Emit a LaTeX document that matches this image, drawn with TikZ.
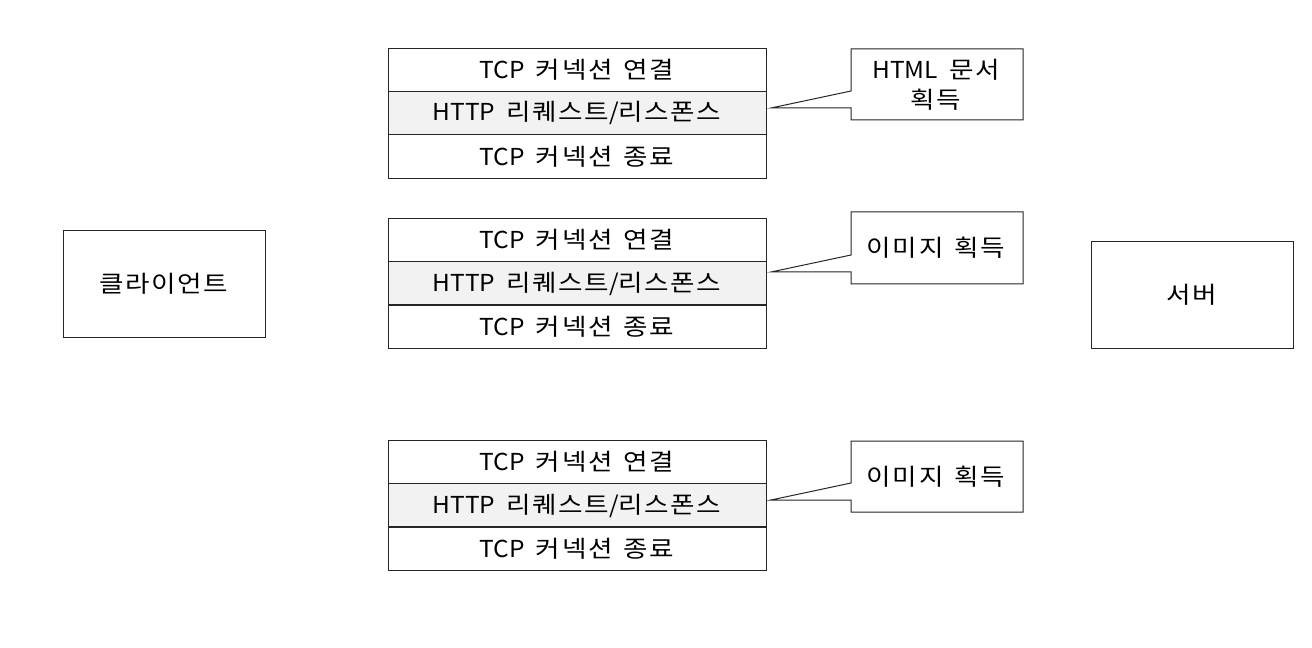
\documentclass[tikz,border=0pt]{standalone}
\usepackage{fontspec}
\setmainfont{Noto Sans CJK KR}[FakeStretch=1.05,WordSpace=2.0]
\newfontfamily\korfont{Noto Sans CJK KR}[FakeStretch=1.14,LetterSpace=7,WordSpace=2.0]
\newcommand\kor[1]{{\korfont #1}}
\begin{document}
\begin{tikzpicture}[x=0.75pt,y=-0.75pt,
  lbl/.style={font=\fontsize{17.5}{22.5}\selectfont},
  rowbox/.style={draw=black!85,line width=0.75pt,minimum width=283.5pt,minimum height=32.4pt,inner sep=0pt,lbl},
  httpbox/.style={rowbox,fill=black!5},
  sidebox/.style={draw=black!85,line width=0.75pt,minimum width=151.5pt,minimum height=79.5pt,inner sep=0pt,lbl},
  callouttext/.style={inner sep=0pt,lbl,align=center},
  calloutline/.style={draw=black!85,line width=0.75pt,fill=white,line join=miter}]
\useasboundingbox (0,0) rectangle (1312,648);
% client and server
\node[sidebox] (client) at (164,284) {\kor{클라이언트}};
\node[sidebox] (server) at (1192,295) {\kor{서버}};
% stack 1
\node[rowbox] (c1) at (577,70) {TCP \kor{커넥션} \kor{연결}};
\node[httpbox] (h1) at (577,113) {HTTP \kor{리퀘스트}/\kor{리스폰스}};
\node[rowbox] (e1) at (577,156.5) {TCP \kor{커넥션} \kor{종료}};
% stack 2
\node[rowbox] (c2) at (577,240) {TCP \kor{커넥션} \kor{연결}};
\node[httpbox] (h2) at (577,283.5) {HTTP \kor{리퀘스트}/\kor{리스폰스}};
\node[rowbox] (e2) at (577,326.5) {TCP \kor{커넥션} \kor{종료}};
% stack 3
\node[rowbox] (c3) at (577,462) {TCP \kor{커넥션} \kor{연결}};
\node[httpbox] (h3) at (577,505.5) {HTTP \kor{리퀘스트}/\kor{리스폰스}};
\node[rowbox] (e3) at (577,548.5) {TCP \kor{커넥션} \kor{종료}};
% callouts
\coordinate (t1) at (771,108);
\coordinate (t2) at (771,272);
\coordinate (t3) at (771,500);
\draw[calloutline] (851,49) -- (1023,49) -- (1023,120) -- (851,120) -- (851,108) -- (t1) -- (851,91) -- cycle;
\draw[calloutline] (851,212) -- (1023,212) -- (1023,284) -- (851,284) -- (851,272) -- (t2) -- (851,255) -- cycle;
\draw[calloutline] (851,441) -- (1023,441) -- (1023,512) -- (851,512) -- (851,500) -- (t3) -- (851,483) -- cycle;
\node[callouttext] (n1) at (936,85) {HTML \kor{문서}\\\kor{획득}};
\node[callouttext] (n2) at (936,248) {\kor{이미지} \kor{획득}};
\node[callouttext] (n3) at (936,476.5) {\kor{이미지} \kor{획득}};
\end{tikzpicture}
\end{document}
